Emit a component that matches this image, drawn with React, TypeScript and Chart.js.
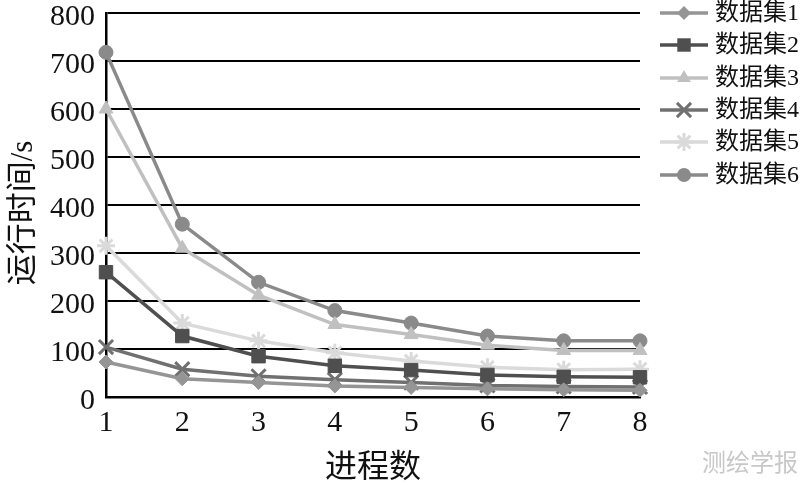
import React, { useEffect, useRef } from "react";
import { Chart, registerables } from "chart.js";

Chart.register(...registerables);

const categories = ["1", "2", "3", "4", "5", "6", "7", "8"];
const seriesNames = ["数据集1", "数据集2", "数据集3", "数据集4", "数据集5", "数据集6"];
const set1 = [73, 38, 30, 23, 20, 17, 15, 14];
const set2 = [260, 127, 85, 65, 56, 46, 42, 41];
const set3 = [600, 310, 212, 151, 130, 108, 97, 97];
const set4 = [104, 58, 43, 36, 30, 24, 22, 21];
const set5 = [315, 154, 117, 92, 75, 62, 57, 58];
const set6 = [718, 360, 239, 180, 154, 127, 117, 117];
const yTicks = [0, 100, 200, 300, 400, 500, 600, 700, 800];
const yTitle = "运行时间/s";
const xTitle = "进程数";
const watermark = "测绘学报";

const serif = "'Liberation Serif', 'Times New Roman', 'Noto Sans CJK SC', serif";

const styles = [
  { color: "#959595", point: "rectRot", radius: 7 },
  { color: "#4f4f4f", point: "rect", radius: 9.5 },
  { color: "#c0c0c0", point: "triangle", radius: 8 },
  { color: "#707070", point: "crossRot", radius: 10 },
  { color: "#dadada", point: "star", radius: 9 },
  { color: "#8a8a8a", point: "circle", radius: 7 },
];

function drawPointLocal(ctx: CanvasRenderingContext2D, style: string, r: number, x: number, y: number) {
  ctx.beginPath();
  const s = Math.SQRT1_2 * r;
  switch (style) {
    case "circle":
      ctx.arc(x, y, r, 0, Math.PI * 2);
      ctx.fill();
      break;
    case "rect":
      ctx.rect(x - s, y - s, 2 * s, 2 * s);
      ctx.fill();
      break;
    case "rectRot":
      ctx.moveTo(x, y - r);
      ctx.lineTo(x + r, y);
      ctx.lineTo(x, y + r);
      ctx.lineTo(x - r, y);
      ctx.closePath();
      ctx.fill();
      break;
    case "triangle":
      ctx.moveTo(x, y - r);
      ctx.lineTo(x + r * 0.866, y + r * 0.5);
      ctx.lineTo(x - r * 0.866, y + r * 0.5);
      ctx.closePath();
      ctx.fill();
      break;
    case "crossRot":
      ctx.moveTo(x - s, y - s);
      ctx.lineTo(x + s, y + s);
      ctx.moveTo(x + s, y - s);
      ctx.lineTo(x - s, y + s);
      ctx.stroke();
      break;
    case "star":
      ctx.moveTo(x - s, y - s);
      ctx.lineTo(x + s, y + s);
      ctx.moveTo(x + s, y - s);
      ctx.lineTo(x - s, y + s);
      ctx.moveTo(x, y - r);
      ctx.lineTo(x, y + r);
      ctx.moveTo(x - r, y);
      ctx.lineTo(x + r, y);
      ctx.stroke();
      break;
  }
}

const legendPlugin = {
  id: "customLegend",
  afterDraw(chart: any) {
    const ctx = chart.ctx;
    ctx.save();
    const ys = [13, 45, 78, 110, 142, 175];
    chart.data.datasets.forEach((ds: any, i: number) => {
      const y = ys[i];
      ctx.strokeStyle = ds.borderColor;
      ctx.lineWidth = 3.5;
      ctx.beginPath();
      ctx.moveTo(660, y);
      ctx.lineTo(708, y);
      ctx.stroke();
      ctx.fillStyle = ds.borderColor;
      ctx.strokeStyle = ds.borderColor;
      ctx.lineWidth = 3;
      drawPointLocal(ctx, ds.pointStyle, ds.pointRadius, 684, y);
      ctx.fillStyle = "#111";
      ctx.font = `24px ${serif}`;
      ctx.textBaseline = "middle";
      ctx.textAlign = "left";
      ctx.fillText(ds.label, 715, y + 1);
    });
    // y axis title
    ctx.save();
    ctx.translate(24, 213);
    ctx.rotate(-Math.PI / 2);
    ctx.fillStyle = "#111";
    ctx.font = `31px ${serif}`;
    ctx.textAlign = "center";
    ctx.textBaseline = "middle";
    ctx.fillText(yTitle, 0, 0);
    ctx.restore();
    // watermark
    ctx.fillStyle = "#c8c8c8";
    ctx.font = "24px 'Noto Sans CJK SC', sans-serif";
    ctx.textAlign = "left";
    ctx.textBaseline = "middle";
    ctx.fillText(watermark, 702, 462);
    ctx.restore();
  },
};

export default function App() {
  const ref = useRef<HTMLCanvasElement>(null);
  useEffect(() => {
    document.body.style.margin = "0";
    const allData = [set1, set2, set3, set4, set5, set6];
    const chart = new Chart(ref.current!, {
      type: "line",
      data: {
        labels: categories,
        datasets: allData.map((d, i) => ({
          label: seriesNames[i],
          data: d,
          borderColor: styles[i].color,
          backgroundColor: styles[i].color,
          pointBackgroundColor: styles[i].color,
          pointBorderColor: styles[i].color,
          pointStyle: styles[i].point as any,
          pointRadius: styles[i].radius,
          pointBorderWidth: styles[i].point === "crossRot" || styles[i].point === "star" ? 3 : 1,
          borderWidth: 3.5,
          tension: 0,
          fill: false,
        })),
      },
      options: {
        responsive: false,
        animation: false,
        devicePixelRatio: 1,
        layout: { padding: { left: 0, right: 160, top: 11, bottom: 0 } },
        plugins: {
          legend: { display: false },
          tooltip: { enabled: false },
        },
        scales: {
          x: {
            type: "category",
            offset: false,
            grid: { display: false, drawTicks: false },
            border: { display: true, color: "#000", width: 2.5 },
            ticks: {
              color: "#111",
              font: { family: serif, size: 30 },
              padding: 8,
              maxRotation: 0,
            },
            title: {
              display: true,
              text: xTitle,
              color: "#111",
              font: { family: serif, size: 32 },
              padding: { top: 0, bottom: -3 },
            },
            afterFit: (s: any) => {
              s.height = 88;
              s.paddingLeft = 0;
              s.paddingRight = 0;
            },
          },
          y: {
            min: 0,
            max: 800,
            afterBuildTicks: (s: any) => {
              s.ticks = yTicks.map((v) => ({ value: v }));
            },
            grid: { color: "#000", lineWidth: 2, drawTicks: false },
            border: { display: true, color: "#000", width: 2.5 },
            ticks: {
              color: "#111",
              font: { family: serif, size: 30 },
              padding: 11,
              labelOffset: 4,
            },
            title: { display: false },
            afterFit: (s: any) => {
              s.width = 106;
              s.paddingTop = 0;
              s.paddingBottom = 0;
            },
          },
        },
      },
      plugins: [legendPlugin],
    });
    return () => chart.destroy();
  }, []);
  return <canvas ref={ref} width={800} height={485} style={{ display: "block" }} />;
}
